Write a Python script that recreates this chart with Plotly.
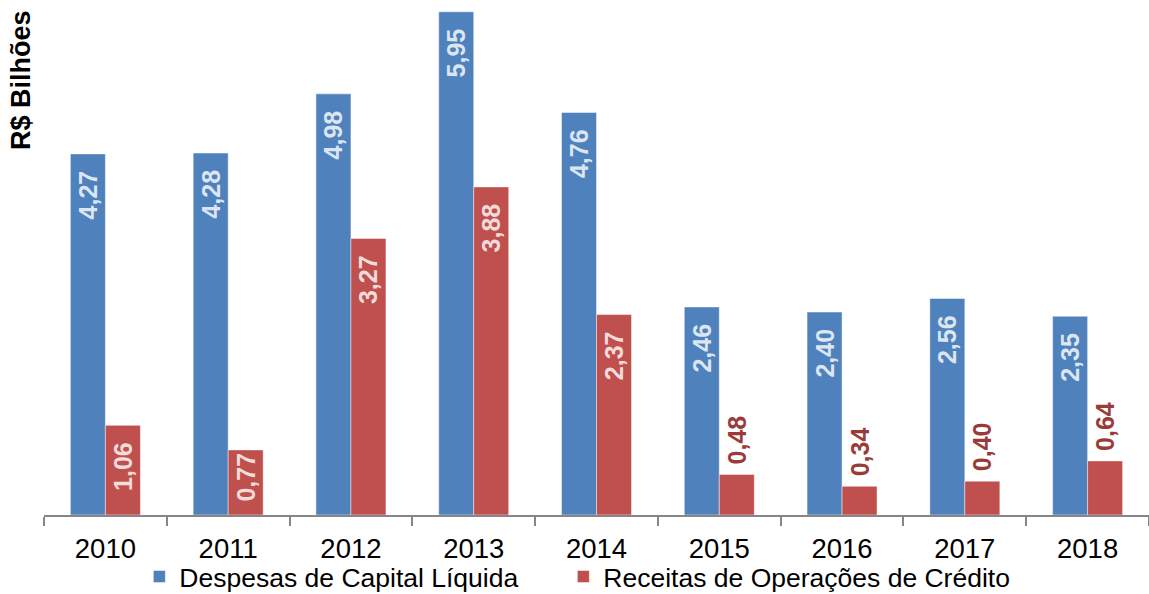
import plotly.graph_objects as go

anos = ["2010", "2011", "2012", "2013", "2014", "2015", "2016", "2017", "2018"]
despesas = [4.27, 4.28, 4.98, 5.95, 4.76, 2.46, 2.40, 2.56, 2.35]
receitas = [1.06, 0.77, 3.27, 3.88, 2.37, 0.48, 0.34, 0.40, 0.64]

FONT = "Liberation Sans, Arial, sans-serif"
NB = "\u00a0"

rec_pos = ["inside" if v >= 0.7 else "outside" for v in receitas]
rec_tpl = []
for v, p in zip(receitas, rec_pos):
    if p == "outside":
        rec_tpl.append(NB + "%{y:.2f}")
    elif v < 1.0:
        rec_tpl.append("%{y:.2f}")
    else:
        rec_tpl.append("%{y:.2f}" + NB * 2)

fig = go.Figure()
fig.add_trace(go.Bar(
    x=anos, y=despesas, name="Despesas de Capital Líquida", legend="legend",
    marker=dict(color="#4F81BD", line=dict(color="rgba(255,255,255,0.45)", width=1)),
    texttemplate="%{y:.2f}" + NB * 2, textposition="inside", insidetextanchor="end",
    textangle=-90, constraintext="none",
    insidetextfont=dict(family=FONT, size=25, color="#DCE6F2", weight="bold"),
))
fig.add_trace(go.Bar(
    x=anos, y=receitas, name="Receitas de Operações de Crédito", legend="legend2",
    marker=dict(color="#C0504D", line=dict(color="rgba(255,255,255,0.45)", width=1)),
    texttemplate=rec_tpl, textposition=rec_pos, insidetextanchor="end",
    textangle=-90, constraintext="none", cliponaxis=False,
    insidetextfont=dict(family=FONT, size=25, color="#F2DCDB", weight="bold"),
    outsidetextfont=dict(family=FONT, size=25, color="#9B3B39", weight="bold"),
))

legend_common = dict(orientation="h", xanchor="left", y=-0.12, yanchor="middle",
                     bgcolor="rgba(0,0,0,0)",
                     font=dict(family=FONT, size=26.5, color="black"))

fig.update_layout(
    width=1149, height=594,
    margin=dict(l=44, r=0, t=0, b=79, autoexpand=False),
    paper_bgcolor="white", plot_bgcolor="white",
    barmode="group", bargap=0.43, bargroupgap=0,
    separators=",.",
    font=dict(family=FONT, size=26, color="black"),
    showlegend=True,
    legend=dict(x=0.0863, **legend_common),
    legend2=dict(x=0.470, **legend_common),
    xaxis=dict(type="category", showline=True, linecolor="#868686", linewidth=2,
               ticks="outside", tickson="boundaries", ticklen=9, tickcolor="#868686",
               tickwidth=2, ticklabelstandoff=8,
               tickfont=dict(family=FONT, size=27.5, color="black"),
               showgrid=False, zeroline=False),
    yaxis=dict(range=[0, 6.09], visible=False, showgrid=False, zeroline=False),
    annotations=[dict(text="<b>R$ Bilhões</b>", textangle=-90, xref="paper", yref="paper",
                      x=0, xanchor="right", xshift=-6, y=1, yanchor="top", yshift=-8,
                      showarrow=False, font=dict(family=FONT, size=27, color="black"))],
)

fig.write_html("out.html", post_script="document.body.style.margin='0';",
               config={"displayModeBar": False})
